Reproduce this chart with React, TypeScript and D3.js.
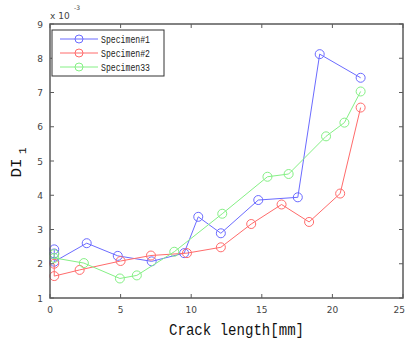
import React from 'react'
import * as d3 from 'd3'

// Series data: [crack length mm, DI_1 (x 1e-3)]
const specimen1: [number, number][] = [
  [0.3, 2.42], [0.3, 2.3], [0.3, 2.06], [2.6, 2.6], [4.8, 2.23], [7.2, 2.07],
  [9.5, 2.31], [10.5, 3.37], [12.1, 2.89], [14.75, 3.86], [17.55, 3.94],
  [19.1, 8.12], [22.0, 7.43],
]
const specimen2: [number, number][] = [
  [0.3, 2.0], [0.3, 1.64], [2.1, 1.82], [5.0, 2.08], [7.15, 2.24], [9.7, 2.31],
  [12.1, 2.48], [14.25, 3.16], [16.4, 3.73], [18.35, 3.22], [20.55, 4.05],
  [22.0, 6.56],
]
const specimen33: [number, number][] = [
  [0.3, 2.28], [0.3, 2.17], [2.4, 2.02], [4.95, 1.57], [6.15, 1.66],
  [8.8, 2.35], [12.2, 3.46], [15.4, 4.54], [16.9, 4.62], [19.55, 5.72],
  [20.85, 6.12], [22.0, 7.03],
]

const seriesNames = ['Specimen#1', 'Specimen#2', 'Specimen33']
const seriesColors = ['#6b6bff', '#ff6b6b', '#85f085']
const xTicks = [0, 5, 10, 15, 20, 25]
const yTicks = [1, 2, 3, 4, 5, 6, 7, 8, 9]

const W = 406
const H = 341
const margin = { top: 24, right: 3, bottom: 43, left: 50 }

export default function App() {
  const x = d3.scaleLinear().domain([0, 25]).range([margin.left, W - margin.right])
  const y = d3.scaleLinear().domain([1, 9]).range([H - margin.bottom, margin.top])
  const line = d3.line<[number, number]>().x(d => x(d[0])).y(d => y(d[1]))
  const all = [specimen1, specimen2, specimen33]
  const axisColor = '#5a5a5a'
  const tickFont = { fontFamily: 'DejaVu Sans', fontSize: 9, fill: '#444' }
  const x0 = x(0), x1 = x(25), y0 = y(1), y1 = y(9)

  return (
    <svg width={W} height={H} style={{ position: 'absolute', left: 0, top: 0, background: '#fff' }}>
      {/* series */}
      {all.map((s, i) => (
        <g key={seriesNames[i]}>
          <path d={line(s) || ''} fill="none" stroke={seriesColors[i]} strokeWidth={1} />
          {s.map((d, j) => (
            <circle key={j} cx={x(d[0])} cy={y(d[1])} r={4.5} fill="none" stroke={seriesColors[i]} strokeWidth={1} />
          ))}
        </g>
      ))}

      {/* axes box and ticks */}
      <rect x={x0} y={y1} width={x1 - x0} height={y0 - y1} fill="none" stroke={axisColor} strokeWidth={1.5} />
      {xTicks.map((t, i) => {
        const last = i === xTicks.length - 1
        return (
          <g key={'x' + t}>
            <line x1={x(t)} x2={x(t)} y1={y0} y2={y0 - 4} stroke={axisColor} />
            <line x1={x(t)} x2={x(t)} y1={y1} y2={y1 + 4} stroke={axisColor} />
            <text x={last ? W - 1 : x(t)} y={y0 + 15} textAnchor={last ? 'end' : 'middle'} {...tickFont}>{t}</text>
          </g>
        )
      })}
      {yTicks.map(t => (
        <g key={'y' + t}>
          <line x1={x0} x2={x0 + 4} y1={y(t)} y2={y(t)} stroke={axisColor} />
          <line x1={x1} x2={x1 - 4} y1={y(t)} y2={y(t)} stroke={axisColor} />
          <text x={x0 - 7} y={y(t) + 3.5} textAnchor="end" {...tickFont}>{t}</text>
        </g>
      ))}

      {/* exponent */}
      <text x={x0} y={19} {...tickFont}>x 10</text>
      <text x={x0 + 24} y={10} fontFamily="DejaVu Sans" fontSize={6} fill="#444">-3</text>

      {/* axis labels */}
      <text x={(x0 + x1) / 2 + 10} y={335} textAnchor="middle" fontFamily="Liberation Mono" fontSize={16}
        fill="#111" textLength={135} lengthAdjust="spacingAndGlyphs">Crack length[mm]</text>
      <g transform="translate(21,168) rotate(-90)">
        <text x={0} y={0} textAnchor="middle" fontFamily="Liberation Mono" fontSize={15} fill="#111"
          textLength={19} lengthAdjust="spacingAndGlyphs">DI</text>
        <text x={14} y={5} fontFamily="Liberation Mono" fontSize={11} fill="#111">1</text>
      </g>

      {/* legend */}
      <g transform="translate(52,30)">
        <rect x={0} y={0} width={112} height={46} fill="#fff" stroke="#333" strokeWidth={1} />
        {seriesNames.map((n, i) => (
          <g key={n} transform={`translate(0,${9 + i * 14})`}>
            <line x1={8} x2={46} y1={0} y2={0} stroke={seriesColors[i]} />
            <circle cx={27} cy={0} r={4} fill="none" stroke={seriesColors[i]} />
            <text x={49} y={3.5} fontFamily="Liberation Mono" fontSize={10} fill="#222"
              textLength={49} lengthAdjust="spacingAndGlyphs">{n}</text>
          </g>
        ))}
      </g>
    </svg>
  )
}
